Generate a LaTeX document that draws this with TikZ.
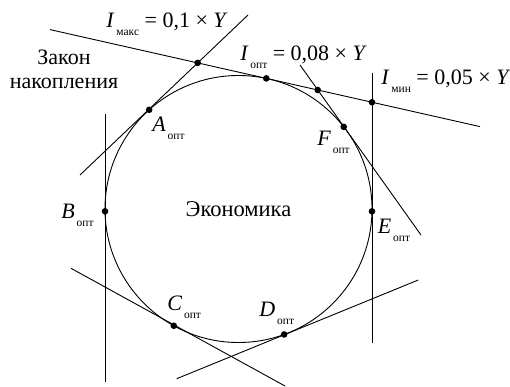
\documentclass[tikz,border=0pt]{standalone}
\usepackage{fontspec}
\setmainfont{Liberation Serif}
\usetikzlibrary{positioning}
\newcommand{\lowsub}[1]{\hspace{0.08em}\raisebox{-8pt}{\fontsize{11.5}{12}\selectfont #1}}

\begin{document}
\begin{tikzpicture}[x=1pt,y=-1pt,line width=0.9pt]
\useasboundingbox (0,0) rectangle (510,387);
\tikzstyle{dot} = [circle,fill=black,draw=none,inner sep=0pt,minimum size=6.6pt]
\tikzstyle{lab} = [anchor=base west,inner sep=0pt,font=\fontsize{22}{26}\selectfont]
%%%%%%%%%%%%%%%%%%%%%%%%%%%%%
% circle
%%%%%%%%%%%%%%%%%%%%%%%%%%%%%
\node [circle,draw=black,inner sep=0pt,outer sep=0pt,minimum size=267pt,font=\fontsize{22.5}{26}\selectfont] (eco) at (238.5,209){Экономика};
% line ends
\coordinate (a1) at (80,175);   \coordinate (a2) at (248,15);
\coordinate (t1) at (50,29.6);  \coordinate (t2) at (480,126.6);
\coordinate (f1) at (300,65);   \coordinate (f2) at (421,235);
\coordinate (e1) at (372,73);   \coordinate (e2) at (372,342.7);
\coordinate (b1) at (105,114);  \coordinate (b2) at (105,382);
\coordinate (c1) at (71,268.3); \coordinate (c2) at (285,386);
\coordinate (d1) at (176.7,378.7); \coordinate (d2) at (418.3,280);
\draw (a1) -- (a2);
\draw (t1) -- (t2);
\draw (f1) -- (f2);
\draw (e1) -- (e2);
\draw (b1) -- (b2);
\draw (c1) -- (c2);
\draw (d1) -- (d2);
%%%%%%%%%%%%%%%%%%%%%%%%%%%%%
% points
%%%%%%%%%%%%%%%%%%%%%%%%%%%%%
\node [dot] (pa) at (eco.132){};
\node [dot] (pt) at (eco.78){};
\node [dot] (pf) at (eco.38){};
\node [dot] (pe) at (eco.-1.5){};
\node [dot] (pb) at (eco.181.5){};
\node [dot] (pc) at (eco.-119){};
\node [dot] (pd) at (eco.-70){};
\node [dot] (pat) at (intersection of a1--a2 and t1--t2){};
\node [dot] (pft) at (intersection of f1--f2 and t1--t2){};
\node [dot] (pet) at (intersection of e1--e2 and t1--t2){};
%%%%%%%%%%%%%%%%%%%%%%%%%%%%%
% labels
%%%%%%%%%%%%%%%%%%%%%%%%%%%%%
\node [lab] (imax) at (106,28){\textit{I}\lowsub{макс} = 0,1 × \textit{Y}};
\node [lab] (iopt) at (240,61){\textit{I}\lowsub{опт} = 0,08 × \textit{Y}};
\node [lab] (imin) at (381,85){\textit{I}\lowsub{мин} = 0,05 × \textit{Y}};
\node [lab,anchor=base] (z1) at (64,65){Закон};
\node [lab,anchor=base] (z2) at ([yshift=-24pt]z1.base){накопления};
\node [lab] (la) at (152,131.7){\textit{A}\lowsub{опт}};
\node [lab] (lf) at (317,146){\textit{F}\lowsub{опт}};
\node [lab] (lb) at (61,218.3){\textit{B}\lowsub{опт}};
\node [lab] (lc) at (167,310){\textit{C}\lowsub{опт}};
\node [lab] (ld) at (259,316.7){\textit{D}\lowsub{опт}};
\node [lab] (le) at (377.5,233.3){\textit{E}\lowsub{опт}};
\end{tikzpicture}
\end{document}
